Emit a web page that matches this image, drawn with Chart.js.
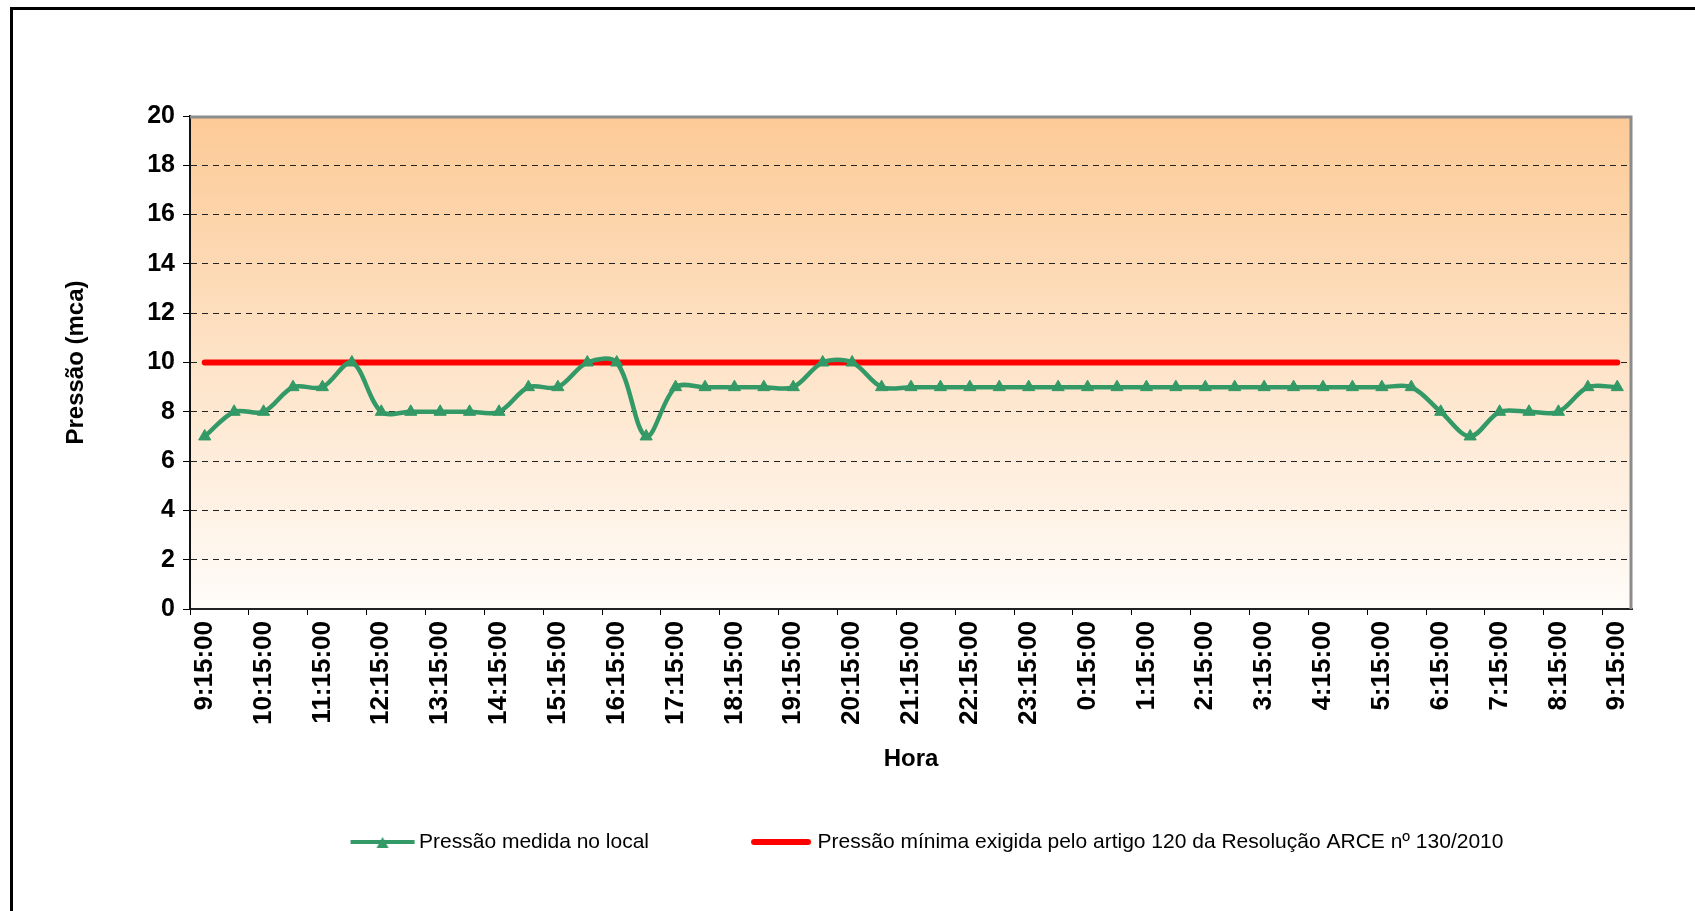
<!DOCTYPE html>
<html>
<head>
<meta charset="utf-8">
<script src="https://cdn.jsdelivr.net/npm/chart.js@4.4.1/dist/chart.umd.min.js"></script>
<style>
  html, body { margin: 0; padding: 0; background: #fff; overflow: hidden; }
  #frame { position: absolute; left: 10px; top: 7px; width: 1800px; height: 1000px;
           border-left: 3px solid #000; border-top: 3px solid #000; }
  #chart { position: absolute; left: 0; top: 0; }
</style>
</head>
<body>
<div id="frame"></div>
<canvas id="chart" width="1695" height="911"></canvas>
<script>
const horas = [
  '9:15:00', '9:45:00', '10:15:00', '10:45:00', '11:15:00', '11:45:00', '12:15:00', '12:45:00',
  '13:15:00', '13:45:00', '14:15:00', '14:45:00', '15:15:00', '15:45:00', '16:15:00', '16:45:00',
  '17:15:00', '17:45:00', '18:15:00', '18:45:00', '19:15:00', '19:45:00', '20:15:00', '20:45:00',
  '21:15:00', '21:45:00', '22:15:00', '22:45:00', '23:15:00', '23:45:00', '0:15:00', '0:45:00',
  '1:15:00', '1:45:00', '2:15:00', '2:45:00', '3:15:00', '3:45:00', '4:15:00', '4:45:00',
  '5:15:00', '5:45:00', '6:15:00', '6:45:00', '7:15:00', '7:45:00', '8:15:00', '8:45:00',
  '9:15:00'
];

const pressaoMedida = [
  7, 8, 8, 9, 9, 10, 8, 8,
  8, 8, 8, 9, 9, 10, 10, 7,
  9, 9, 9, 9, 9, 10, 10, 9,
  9, 9, 9, 9, 9, 9, 9, 9,
  9, 9, 9, 9, 9, 9, 9, 9,
  9, 9, 8, 7, 8, 8, 8, 9,
  9
];

const pressaoMinima = [
  10, 10, 10, 10, 10, 10, 10, 10,
  10, 10, 10, 10, 10, 10, 10, 10,
  10, 10, 10, 10, 10, 10, 10, 10,
  10, 10, 10, 10, 10, 10, 10, 10,
  10, 10, 10, 10, 10, 10, 10, 10,
  10, 10, 10, 10, 10, 10, 10, 10,
  10
];

const yTicks = [0, 2, 4, 6, 8, 10, 12, 14, 16, 18, 20];

const verde = '#339966';
const vermelho = '#ff0000';

// legend marks (Excel style: line with triangle / thick line), shifted inside the image
function marcaLegenda(tipo) {
  const c = document.createElement('canvas');
  const g = c.getContext('2d');
  c.width = 120; c.height = 16;
  if (tipo === 'verde') {
    g.strokeStyle = verde;
    g.lineWidth = 4;
    g.beginPath(); g.moveTo(47, 8); g.lineTo(111, 8); g.stroke();
    g.fillStyle = verde;
    g.beginPath(); g.moveTo(79, 3); g.lineTo(85, 14); g.lineTo(73, 14); g.closePath(); g.fill();
  } else {
    g.strokeStyle = vermelho;
    g.lineWidth = 6;
    g.lineCap = 'round';
    g.beginPath(); g.moveTo(52, 8); g.lineTo(106, 8); g.stroke();
  }
  return c;
}
const marcas = [marcaLegenda('verde'), marcaLegenda('vermelho')];

const fundoPlot = {
  id: 'fundoPlot',
  beforeDraw(chart) {
    const { ctx, chartArea: a } = chart;
    const grad = ctx.createLinearGradient(0, a.top, 0, a.bottom);
    grad.addColorStop(0, '#fcca96');
    grad.addColorStop(1, '#fffcf9');
    ctx.save();
    ctx.fillStyle = grad;
    ctx.fillRect(a.left, a.top, a.right - a.left, a.bottom - a.top);
    ctx.restore();
  },
  beforeDatasetsDraw(chart) {
    const { ctx, chartArea: a } = chart;
    ctx.save();
    ctx.strokeStyle = '#8c8c8c';
    ctx.lineWidth = 3;
    ctx.beginPath();
    ctx.moveTo(a.left, a.top + 1);
    ctx.lineTo(a.right - 1, a.top + 1);
    ctx.lineTo(a.right - 1, a.bottom);
    ctx.stroke();
    ctx.restore();
  }
};

Chart.defaults.font.family = "'Liberation Sans', Arial, sans-serif";
Chart.defaults.color = '#000';

new Chart(document.getElementById('chart'), {
  type: 'line',
  data: {
    labels: horas,
    datasets: [{
      label: 'Pressão medida no local',
      data: pressaoMedida,
      borderColor: verde,
      backgroundColor: verde,
      borderWidth: 4.5,
      tension: 0.33,
      pointStyle: 'triangle',
      pointRadius: 7,
      pointBorderWidth: 1,
      pointBackgroundColor: verde,
      pointBorderColor: verde
    }, {
      label: 'Pressão mínima exigida pelo artigo 120 da Resolução ARCE nº 130/2010',
      data: pressaoMinima,
      borderColor: vermelho,
      backgroundColor: vermelho,
      borderWidth: 6,
      borderCapStyle: 'round',
      pointRadius: 0,
      tension: 0
    }]
  },
  options: {
    responsive: false,
    animation: false,
    layout: { padding: { top: 116, right: 63, bottom: 48.5, left: 0 } },
    plugins: {
      tooltip: { enabled: false },
      legend: {
        position: 'bottom',
        fullSize: false,
        labels: {
          usePointStyle: true,
          pointStyleWidth: 90,
          padding: 68,
          font: { size: 21 },
          color: '#000',
          generateLabels(chart) {
            const items = Chart.defaults.plugins.legend.labels.generateLabels(chart);
            items.forEach((it, i) => { it.pointStyle = marcas[i]; });
            return items;
          }
        }
      }
    },
    scales: {
      x: {
        offset: true,
        grid: {
          offset: true,
          drawOnChartArea: false,
          tickLength: 6,
          tickColor: (ctx) => (ctx.index % 2 === 0 ? '#000' : 'rgba(0,0,0,0)')
        },
        border: { color: '#222', width: 2 },
        ticks: {
          autoSkip: false,
          maxRotation: 90,
          minRotation: 90,
          padding: 6,
          font: { size: 26, weight: 'bold' },
          callback: (v, i) => (i % 2 === 0 ? horas[i] : '')
        },
        title: {
          display: true,
          text: 'Hora',
          font: { size: 24, weight: 'bold' },
          padding: { top: 0, bottom: -10 }
        },
        afterFit(scale) { scale.height = 154.5; }
      },
      y: {
        min: 0,
        max: 20,
        afterBuildTicks(scale) { scale.ticks = yTicks.map(v => ({ value: v })); },
        grid: {
          color: (ctx) => (ctx.tick && (ctx.tick.value === 0 || ctx.tick.value === 20) ? 'rgba(0,0,0,0)' : '#222'),
          lineWidth: 1,
          tickColor: '#000',
          tickLength: 7
        },
        border: { color: '#111', width: 2, dash: [6, 5] },
        ticks: {
          padding: 8,
          font: { size: 25, weight: 'bold' }
        },
        title: {
          display: true,
          text: 'Pressão (mca)',
          font: { size: 24, weight: 'bold' },
          padding: { top: 62, bottom: 0 }
        },
        afterFit(scale) { scale.width = 190; }
      }
    }
  },
  plugins: [fundoPlot]
});
</script>
</body>
</html>
